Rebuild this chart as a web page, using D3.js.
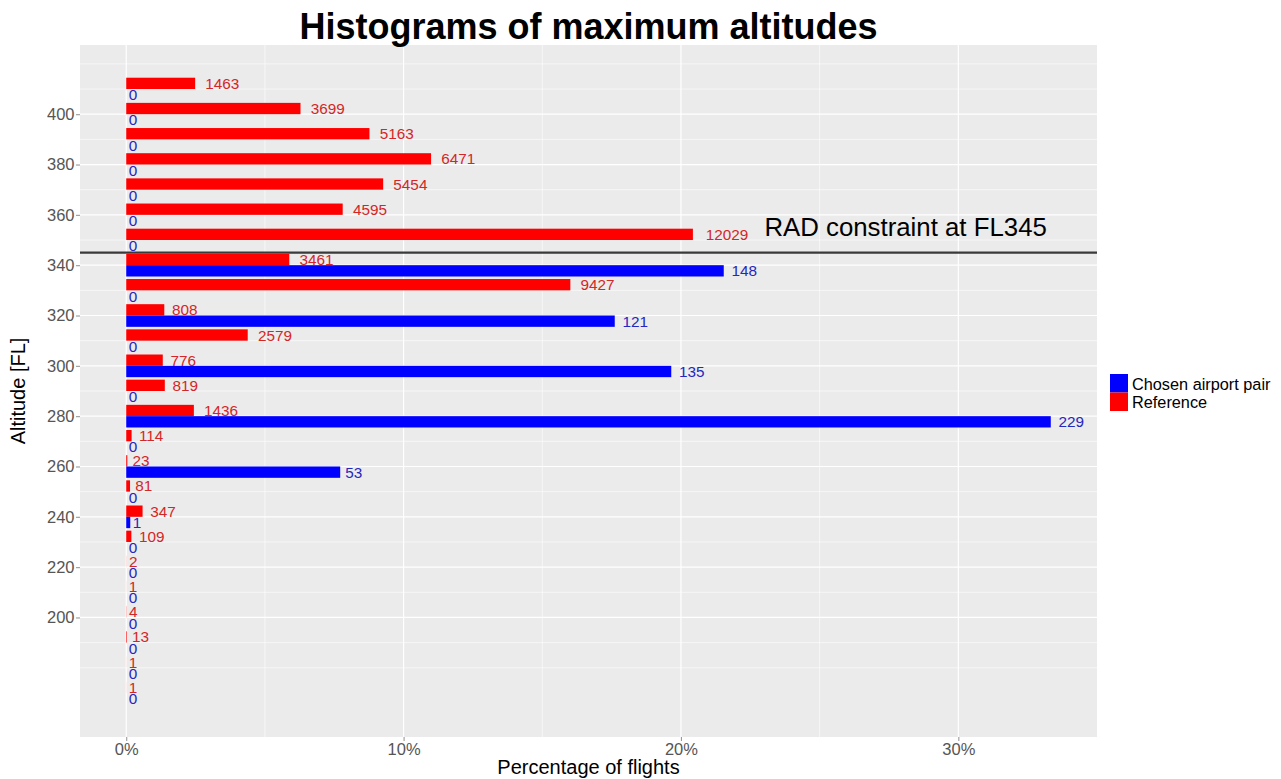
<!DOCTYPE html>
<html><head><meta charset="utf-8">
<script src="https://cdn.jsdelivr.net/npm/d3@7"></script>
<style>
html,body{margin:0;padding:0;background:#fff;}
text{font-family:Arial,"Liberation Sans",sans-serif;}
</style></head>
<body><svg id="chart" width="1281" height="779"></svg>
<script>
// ---- data ----
const altitudes = [410,400,390,380,370,360,350,340,330,320,310,300,290,280,270,260,250,240,230,220,210,200,190,180,170];
const referenceCounts = [1463,3699,5163,6471,5454,4595,12029,3461,9427,808,2579,776,819,1436,114,23,81,347,109,2,1,4,13,1,1];
const chosenCounts = [0,0,0,0,0,0,0,148,0,121,0,135,0,229,0,53,0,1,0,0,0,0,0,0,0];
const seriesNames = ["Chosen airport pair","Reference"];
const seriesColors = ["#0000FF","#FF0000"];
const labelColors = ["#2626c0","#d42626"];
const yTicks = [200,220,240,260,280,300,320,340,360,380,400];
const xTicks = [0,10,20,30];
const constraintFL = 345;
const constraintLabel = "RAD constraint at FL345";
const constraintLabelPos = [28.1, 355]; // data units (%, FL)
const binWidth = 10;

// ---- layout ----
const svg = d3.select("#chart");
const panel = {left:80, right:1097, top:45, bottom:737};

const totRef = d3.sum(referenceCounts), totCh = d3.sum(chosenCounts);
const rows = altitudes.map((a,i)=>({alt:a, ref:referenceCounts[i], refPct:referenceCounts[i]/totRef*100,
  ch:chosenCounts[i], chPct:chosenCounts[i]/totCh*100}));
const xMax = d3.max(rows, d=>Math.max(d.refPct,d.chPct));
const xPad = xMax*0.05;
const x = d3.scaleLinear().domain([-xPad, xMax+xPad]).range([panel.left, panel.right]);
const yLo = d3.min(altitudes)-binWidth/2, yHi = d3.max(altitudes)+binWidth/2;
const yPad = (yHi-yLo)*0.05;
const y = d3.scaleLinear().domain([yLo-yPad, yHi+yPad]).range([panel.bottom, panel.top]);

// panel background
svg.append("rect").attr("x",panel.left).attr("y",panel.top)
  .attr("width",panel.right-panel.left).attr("height",panel.bottom-panel.top).attr("fill","#EBEBEB");

const g = svg.append("g");
// minor grid
const yMinor = d3.range(180, 421, 10).filter(v=>!yTicks.includes(v));
const xMinor = [5,15,25,35];
g.selectAll(".ymin").data(yMinor).join("line").attr("x1",panel.left).attr("x2",panel.right)
  .attr("y1",d=>y(d)).attr("y2",d=>y(d)).attr("stroke","#fff").attr("stroke-width",0.6);
g.selectAll(".xmin").data(xMinor.filter(v=>x(v)<panel.right)).join("line").attr("y1",panel.top).attr("y2",panel.bottom)
  .attr("x1",d=>x(d)).attr("x2",d=>x(d)).attr("stroke","#fff").attr("stroke-width",0.6);
// major grid
g.selectAll(".ymaj").data(yTicks).join("line").attr("x1",panel.left).attr("x2",panel.right)
  .attr("y1",d=>y(d)).attr("y2",d=>y(d)).attr("stroke","#fff").attr("stroke-width",1.2);
g.selectAll(".xmaj").data(xTicks).join("line").attr("y1",panel.top).attr("y2",panel.bottom)
  .attr("x1",d=>x(d)).attr("x2",d=>x(d)).attr("stroke","#fff").attr("stroke-width",1.2);

// bars
const half = binWidth*0.45;
svg.append("g").selectAll("rect.ref").data(rows).join("rect")
  .attr("x",x(0)).attr("width",d=>x(d.refPct)-x(0))
  .attr("y",d=>y(d.alt+half)).attr("height",d=>y(d.alt)-y(d.alt+half))
  .attr("fill",seriesColors[1]);
svg.append("g").selectAll("rect.ch").data(rows).join("rect")
  .attr("x",x(0)).attr("width",d=>x(d.chPct)-x(0))
  .attr("y",d=>y(d.alt)).attr("height",d=>y(d.alt-half)-y(d.alt))
  .attr("fill",seriesColors[0]);

// value labels
function addLabels(key,pctKey,offsetFL,color){
  const t = svg.append("g").selectAll("text").data(rows).join("text")
    .attr("x",d=>x(d[pctKey])).attr("y",d=>y(d.alt+offsetFL))
    .attr("dominant-baseline","central").attr("font-size",15.3).attr("fill",color)
    .text(d=>d[key]);
  t.each(function(){ const w=this.getComputedTextLength(); d3.select(this).attr("dx",0.3*w); });
}
addLabels("ref","refPct",half/2,labelColors[1]);
addLabels("ch","chPct",-half/2,labelColors[0]);

// constraint line + label
svg.append("line").attr("x1",panel.left).attr("x2",panel.right)
  .attr("y1",y(constraintFL)).attr("y2",y(constraintFL)).attr("stroke","#3a3a3a").attr("stroke-width",2.2);
svg.append("text").attr("x",x(constraintLabelPos[0])).attr("y",y(constraintLabelPos[1]))
  .attr("text-anchor","middle").attr("dominant-baseline","central").attr("font-size",25.8).attr("fill","#000")
  .text(constraintLabel);

// axes
const yAxis = svg.append("g").attr("transform",`translate(${panel.left},0)`)
  .call(d3.axisLeft(y).tickValues(yTicks).tickSize(4).tickPadding(1.5));
const xAxis = svg.append("g").attr("transform",`translate(0,${panel.bottom})`)
  .call(d3.axisBottom(x).tickValues(xTicks).tickSize(4).tickPadding(2).tickFormat(d=>d+"%"));
[yAxis,xAxis].forEach(a=>{
  a.select(".domain").remove();
  a.selectAll(".tick line").attr("stroke","#999").attr("stroke-width",1.1);
  a.selectAll(".tick text").attr("fill","#555").attr("font-size",16.5).attr("font-family","Arial,'Liberation Sans',sans-serif");
});

// titles
svg.append("text").attr("x",(panel.left+panel.right)/2).attr("y",39).attr("text-anchor","middle")
  .attr("font-size",36).attr("font-weight","bold").attr("fill","#000").text("Histograms of maximum altitudes");
svg.append("text").attr("x",(panel.left+panel.right)/2).attr("y",774).attr("text-anchor","middle")
  .attr("font-size",20).attr("fill","#000").text("Percentage of flights");
svg.append("text").attr("transform",`translate(25,${(panel.top+panel.bottom)/2}) rotate(-90)`)
  .attr("text-anchor","middle").attr("font-size",20).attr("fill","#000").text("Altitude [FL]");

// legend
const lg = svg.append("g").attr("transform","translate(1110,374)");
seriesNames.forEach((n,i)=>{
  lg.append("rect").attr("x",0).attr("y",i*18.5).attr("width",18).attr("height",18.5).attr("fill",seriesColors[i]);
  lg.append("text").attr("x",22).attr("y",i*18.5+9.5).attr("dominant-baseline","central")
    .attr("font-size",16.3).attr("fill","#000").text(n);
});
</script></body></html>
